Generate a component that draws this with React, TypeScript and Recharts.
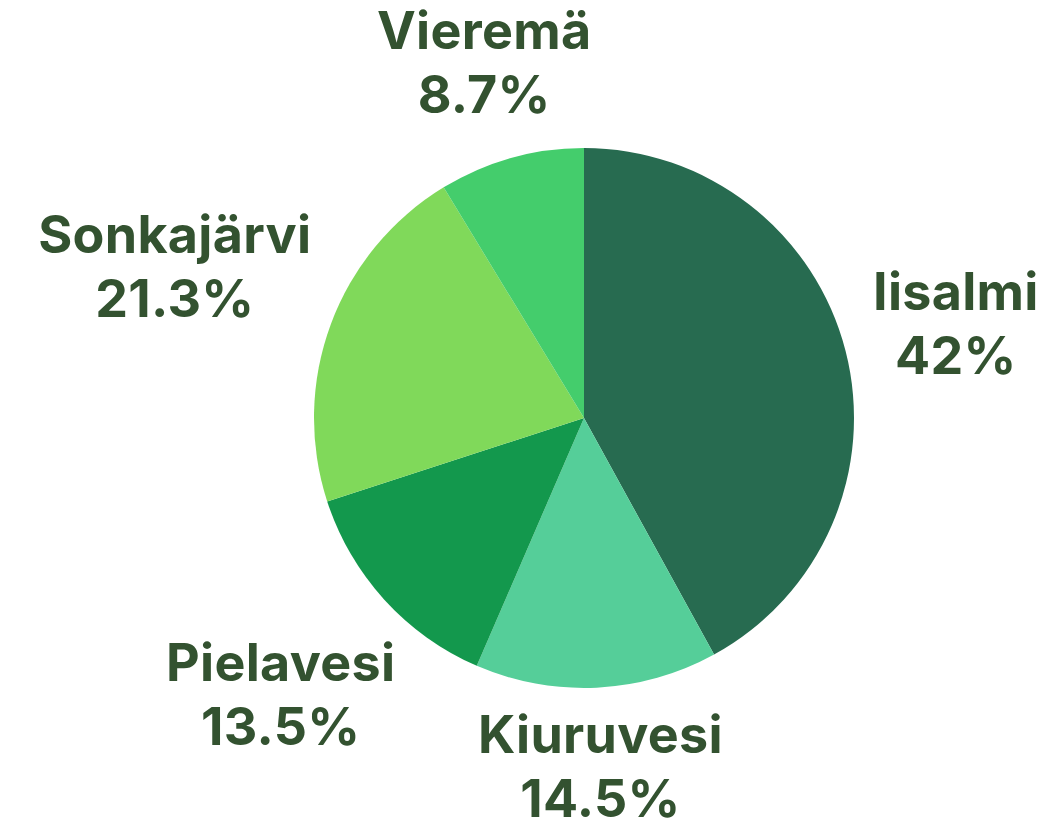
import { PieChart, Pie, Cell } from "recharts";

const REGIONS = ["Iisalmi", "Kiuruvesi", "Pielavesi", "Sonkajärvi", "Vieremä"];
const SHARES = [42, 14.5, 13.5, 21.3, 8.7];
const COLORS = ["#276b50", "#55ce99", "#13984d", "#80d95a", "#44cd6c"];

const TEXT_COLOR = "#335230";
const FONT_SIZE = 52;
const FONT = `700 ${FONT_SIZE}px Inter`;
const LINE_GAP = 64;
const CAP = 38;
const GAP = 22;
const RAD = Math.PI / 180;

const data = REGIONS.map((name, i) => ({ name, value: SHARES[i] }));

let ctx: CanvasRenderingContext2D | null = null;
function measure(text: string) {
  if (!ctx) ctx = document.createElement("canvas").getContext("2d");
  if (!ctx) return text.length * FONT_SIZE * 0.6;
  ctx.font = FONT;
  return ctx.measureText(text).width;
}

function renderLabel(props: any) {
  const { cx, cy, midAngle, outerRadius, name, value } = props;
  const pct = `${value}%`;
  const w = Math.max(measure(name), measure(pct));
  const h = CAP + LINE_GAP;
  const cos = Math.cos(midAngle * RAD);
  const sin = Math.sin(midAngle * RAD);
  const proj = Math.abs(cos) * (w / 2) + Math.abs(sin) * (h / 2);
  const d = outerRadius + GAP + proj;
  const x = cx + cos * d;
  const y = cy - sin * d;
  const top = y - h / 2;
  return (
    <text
      x={x}
      y={top + CAP}
      fill={TEXT_COLOR}
      textAnchor="middle"
      style={{ font: FONT, letterSpacing: 0.3 }}
    >
      <tspan x={x} y={top + CAP}>
        {name}
      </tspan>
      <tspan x={x} y={top + CAP + LINE_GAP}>
        {pct}
      </tspan>
    </text>
  );
}

export default function App() {
  return (
    <div
      style={{
        position: "absolute",
        left: 0,
        top: 0,
        width: 1053,
        height: 819,
        background: "#fff",
        fontFamily: "Inter, sans-serif",
      }}
    >
      <PieChart
        width={1053}
        height={819}
        margin={{ top: 0, right: 0, bottom: 0, left: 0 }}
      >
        <Pie
          data={data}
          dataKey="value"
          nameKey="name"
          cx={584}
          cy={418}
          outerRadius={270}
          startAngle={90}
          endAngle={-270}
          stroke="none"
          labelLine={false}
          label={renderLabel}
          isAnimationActive={false}
        >
          {data.map((_, i) => (
            <Cell key={`cell-${i}`} fill={COLORS[i]} />
          ))}
        </Pie>
      </PieChart>
    </div>
  );
}
